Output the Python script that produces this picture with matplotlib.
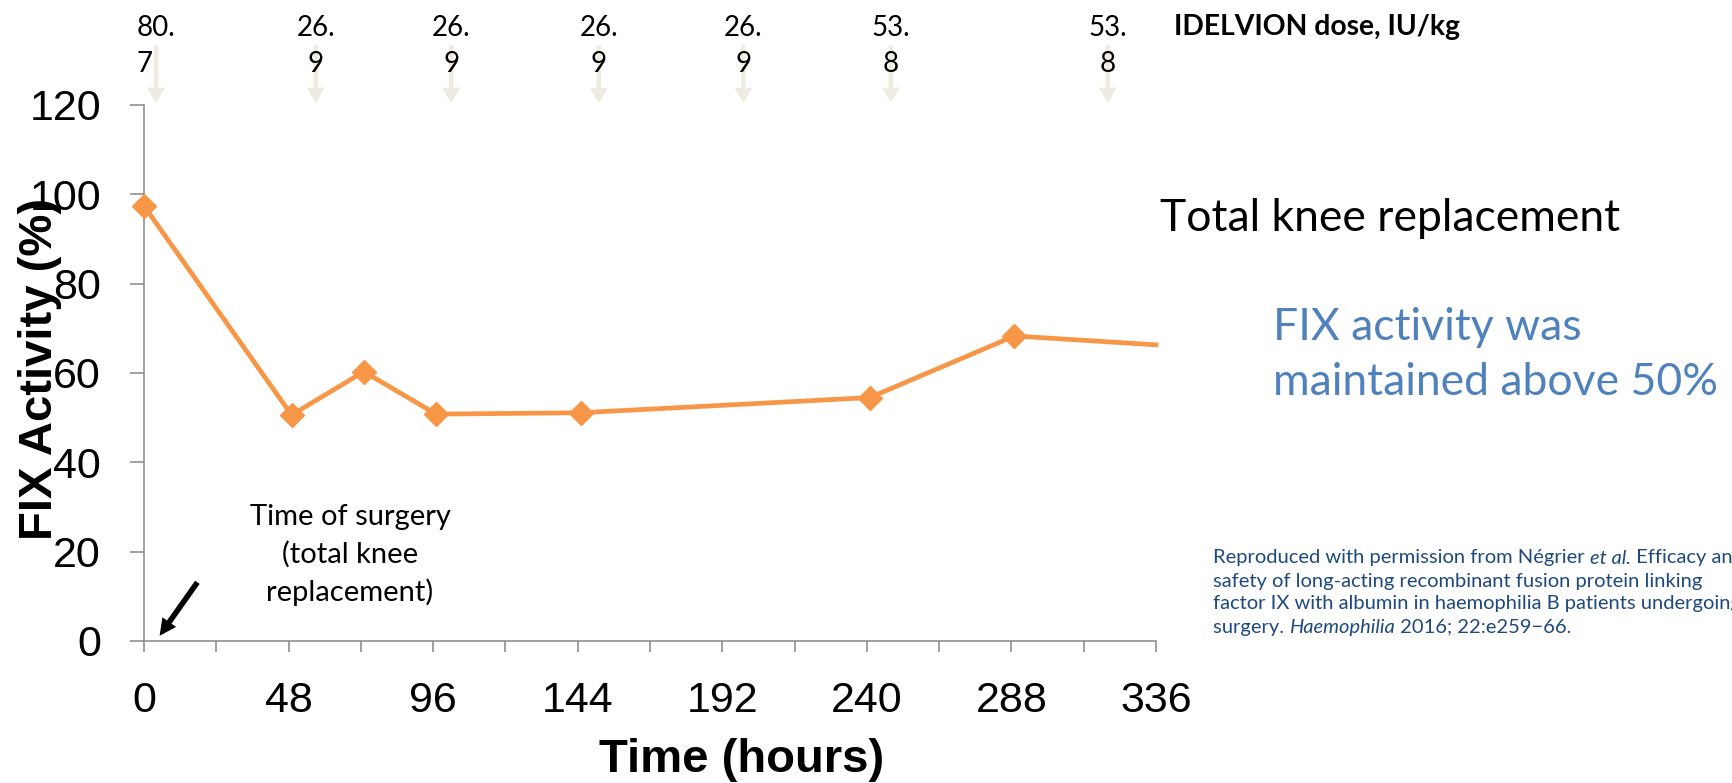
import numpy as np
import matplotlib
matplotlib.use("Agg")
import matplotlib.pyplot as plt
from matplotlib.ticker import MultipleLocator

# FIX activity after surgery (hours vs %)
hours = [0, 49, 73, 97, 145, 241, 289, 336]
fix_activity = [97.4, 50.6, 60.3, 50.8, 51.1, 54.5, 68.3, 66.3]

# IDELVION doses given (hour of dose, IU/kg)
dose_hours = [4, 57, 102, 151, 199, 248, 320]
doses = [80.7, 26.9, 26.9, 26.9, 26.9, 53.8, 53.8]

x_ticks = [0, 48, 96, 144, 192, 240, 288, 336]
y_ticks = [0, 20, 40, 60, 80, 100, 120]

W, H = 1733, 783
ARIAL = ["Liberation Sans", "DejaVu Sans"]
CALIBRI = ["Lato", "DejaVu Sans"]
ORANGE = "#F79646"
GREY = "#868686"


def fx(px):
    return px / W


def fy(py):
    return 1 - py / H


fig = plt.figure(figsize=(W / 100, H / 100), dpi=100, facecolor="white")
ax = fig.add_axes([fx(144), fy(641), 1012 / W, 536 / H])

ax.plot(hours, fix_activity, color=ORANGE, lw=3.4, marker="D", markersize=12,
        markevery=list(range(len(hours) - 1)), solid_joinstyle="miter",
        clip_on=False, zorder=3)

ax.set_xlim(0, 336)
ax.set_ylim(0, 120)
for side in ["top", "right"]:
    ax.spines[side].set_visible(False)
for side in ["left", "bottom"]:
    ax.spines[side].set_color(GREY)
    ax.spines[side].set_linewidth(1.1)

ax.set_xticks(x_ticks)
ax.set_xticklabels([str(t) for t in x_ticks], family=ARIAL, fontsize=31)
ax.xaxis.set_minor_locator(MultipleLocator(24))
ax.set_yticks(y_ticks)
ax.set_yticklabels([str(v) for v in y_ticks], family=ARIAL, fontsize=31)
ax.tick_params(axis="x", which="both", length=7.7, width=1.1, color=GREY, pad=21)
ax.tick_params(axis="y", length=10, width=1.1, color=GREY, pad=21)

# axis titles
fig.text(fx(40), fy(369), "FIX Activity (%)", rotation=90, ha="center", va="center",
         family=ARIAL, fontsize=34, fontweight="bold")
fig.text(fx(742), fy(760), "Time (hours)", ha="center", va="center",
         family=ARIAL, fontsize=34, fontweight="bold")

# dose arrows and values above the plot
trans = ax.get_xaxis_transform()
tip = (641 - 103) / 536
tail = (641 - 45) / 536
for h, d in zip(dose_hours, doses):
    ax.annotate("", xy=(h, tip), xytext=(h, tail), xycoords=trans, textcoords=trans,
                annotation_clip=False,
                arrowprops=dict(arrowstyle="simple,head_width=13,head_length=11,tail_width=3.2",
                                mutation_scale=1, color="#EEECE1", lw=0,
                                shrinkA=0, shrinkB=0))
    label = f"{d:.1f}".replace(".", ".\n")
    ax.text(h, (641 - 46) / 536, label, transform=trans, ha="center", va="center",
            multialignment="left" if d == doses[0] else "center",
            family=CALIBRI, fontsize=20, linespacing=1.5, zorder=4)

fig.text(fx(1174), fy(27), "IDELVION dose, IU/kg", ha="left", va="center",
         family=CALIBRI, fontsize=20.3, fontweight="bold")

# surgery marker
fig.text(fx(350), fy(555), "Time of surgery\n(total knee\nreplacement)", ha="center",
         va="center", family=CALIBRI, fontsize=21, linespacing=1.5)
fig.add_artist(matplotlib.patches.FancyArrowPatch(
    (fx(199), fy(580)), (fx(158), fy(638)), transform=fig.transFigure,
    arrowstyle="simple,head_width=12,head_length=12,tail_width=4",
    mutation_scale=1, color="black", lw=0))

fig.text(fx(1160), fy(219), "Total knee replacement", ha="left", va="center",
         family=CALIBRI, fontsize=32)
fig.text(fx(1273), fy(355), "FIX activity was\nmaintained above 50%", ha="left",
         va="center", family=CALIBRI, fontsize=32, color="#4F81BD", linespacing=1.4)

# reference note, with italic pieces chained after the regular ones
NAVY = "#1F497D"
cite_kw = dict(family=CALIBRI, fontsize=14.5, color=NAVY)


def chain(parts, x, y):
    first = fig.text(fx(x), fy(y), parts[0][0], ha="left", va="center",
                     style=parts[0][1], **cite_kw)
    prev = first
    for txt, sty in parts[1:]:
        prev = ax.annotate(txt, xy=(1, 0), xycoords=prev, ha="left", va="bottom",
                           style=sty, annotation_clip=False, **cite_kw)


cite_x = 1213
chain([("Reproduced with permission from Négrier ", "normal"), ("et al.", "italic"),
       (" Efficacy and", "normal")], cite_x, 558)
fig.text(fx(cite_x), fy(581), "safety of long-acting recombinant fusion protein linking",
         ha="left", va="center", **cite_kw)
fig.text(fx(cite_x), fy(604), "factor IX with albumin in haemophilia B patients undergoing",
         ha="left", va="center", **cite_kw)
chain([("surgery. ", "normal"), ("Haemophilia", "italic"),
       (" 2016; 22:e259\u221266.", "normal")], cite_x, 627)

fig.savefig("out.png", dpi=100)
